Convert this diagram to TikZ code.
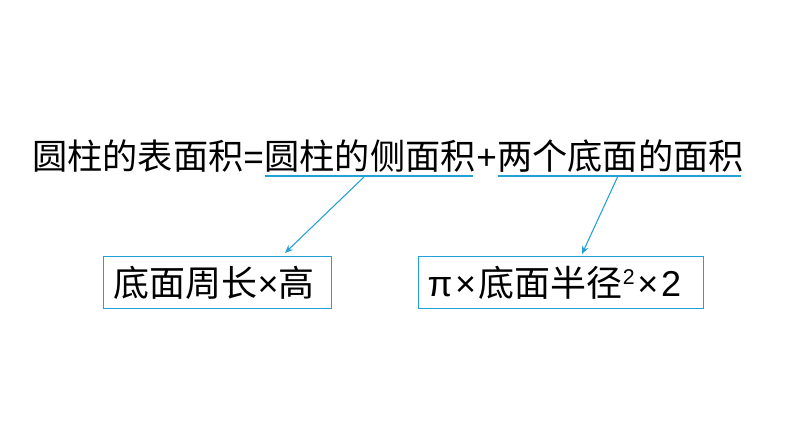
\documentclass[tikz,border=0pt]{standalone}
\usepackage{fontspec}
\setmainfont{Liberation Sans}
\newfontfamily\cjk{Noto Sans CJK SC}
\usetikzlibrary{arrows.meta}
\definecolor{lineblue}{RGB}{35,160,215}
\tikzset{
  toptext/.style={inner sep=0pt, font=\fontsize{26.4}{31}\selectfont},
  ubar/.style={draw=lineblue, line width=1.1pt},
  pointer/.style={draw=lineblue, line width=0.8pt, -{Stealth[length=6pt,width=5pt]}},
  resultbox/.style={draw=lineblue, line width=1.1pt, anchor=north west, inner ysep=0pt,
    minimum height=39pt, align=left, font=\fontsize{27}{31}\selectfont},
}
\begin{document}
\begin{tikzpicture}[x=0.75pt,y=-0.75pt]
\useasboundingbox (0,0) rectangle (794,447);
% top formula
\node[toptext, anchor=base west] (t1) at (32,169.5) {{\cjk 圆柱的表面积}=};
\node[toptext, anchor=base west] (t2) at (t1.base east) {{\cjk 圆柱的侧面积}};
\node[toptext, anchor=base west] (t3) at (t2.base east) {+};
\node[toptext, anchor=base west] (t4) at (t3.base east) {{\cjk 两个底面的面积}};
% underlines
\coordinate (u1a) at (265,176);
\coordinate (u1b) at (473,176);
\coordinate (u2a) at (498,176);
\coordinate (u2b) at (741,176);
\draw[ubar] (u1a) -- (u1b);
\draw[ubar] (u2a) -- (u2b);
% boxes
\node[resultbox, minimum width=171pt, inner xsep=7.5pt, text width=156pt] (b1) at (103,256)
  {{\cjk 底面周长}×{\cjk 高}};
\node[resultbox, minimum width=213.75pt, inner xsep=6.75pt, text width=200.25pt] (b2) at (418,256)
  {π\kern2pt×\kern2pt{\cjk 底面半径}{\fontsize{16}{16}\selectfont\raisebox{0.55em}{2}}\kern2pt×\kern2pt2};
% arrows
\coordinate (s1) at (365,176);
\coordinate (e1) at (285,253);
\coordinate (s2) at (618,176);
\coordinate (e2) at (582,254);
\draw[pointer] (s1) -- (e1);
\draw[pointer] (s2) -- (e2);
\end{tikzpicture}
\end{document}
